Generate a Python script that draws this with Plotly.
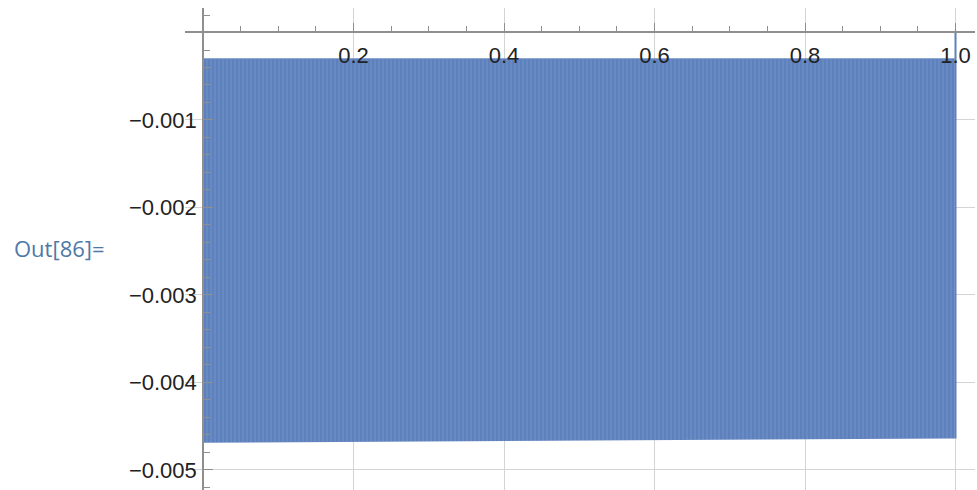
import plotly.graph_objects as go

# ---- data ----
band_x = [0.0, 0.999]
band_upper = [-0.00030, -0.00030]
band_lower = [-0.00469, -0.00464]
left_spike_x = [0.0, 0.0]
left_spike_y = [-0.00469, -0.00497]
right_spike_x = [1.0, 1.0]
right_spike_y = [-0.00464, 0.00002]

x_tickvals = [0.2, 0.4, 0.6, 0.8, 1.0]
x_ticktext = ["0.2", "0.4", "0.6", "0.8", "1.0"]
y_tickvals = [-0.001, -0.002, -0.003, -0.004, -0.005]
y_ticktext = ["\u22120.001", "\u22120.002", "\u22120.003", "\u22120.004", "\u22120.005"]

x_range = [-0.0239, 1.0259]
y_range = [-0.005229, 0.00028]

BLUE = "#5e81bd"
LIGHT = "#88a3d3"
AXIS = "#8f8f8f"
GRID = "#d4d4d4"
FONT = dict(family="Liberation Sans, Arial, sans-serif", size=22, color="#222222")

W, H = 977, 490
ML, MR, MT, MB = 185, 2, 8, 0

fig = go.Figure()
fig.add_trace(go.Scatter(x=band_x, y=band_lower, mode="lines",
                         line=dict(width=0, color=BLUE), showlegend=False, hoverinfo="skip"))
fig.add_trace(go.Scatter(x=band_x, y=band_upper, mode="lines", fill="tonexty",
                         fillcolor=BLUE,
                         fillpattern=dict(shape="|", bgcolor=BLUE, fgcolor=LIGHT,
                                          size=4, solidity=0.25),
                         line=dict(width=0.8, color=BLUE), showlegend=False))
fig.add_trace(go.Scatter(x=left_spike_x, y=left_spike_y, mode="lines",
                         line=dict(width=2, color=BLUE), showlegend=False))
fig.add_trace(go.Scatter(x=right_spike_x, y=right_spike_y, mode="lines",
                         line=dict(width=2, color=BLUE), showlegend=False))

x_zero_frac = (0 - y_range[0]) / (y_range[1] - y_range[0])
y_zero_frac = (0 - x_range[0]) / (x_range[1] - x_range[0])

x_minor = [round(0.05 * i, 2) for i in range(1, 21) if i % 4 != 0]
y_minor = [round(-0.0002 * i, 4) for i in range(-1, 27) if i % 5 != 0]

fig.update_layout(
    width=W, height=H,
    margin=dict(l=ML, r=MR, t=MT, b=MB),
    paper_bgcolor="white", plot_bgcolor="white",
    font=FONT,
    xaxis=dict(range=x_range, anchor="free", position=x_zero_frac, side="bottom",
               showline=True, linecolor=AXIS, linewidth=1.5,
               tickvals=x_tickvals, ticktext=x_ticktext,
               ticks="inside", ticklen=9, tickcolor=AXIS, tickwidth=1.2,
               ticklabelstandoff=3,
               minor=dict(tickvals=x_minor, ticks="inside", ticklen=6,
                          tickcolor=AXIS, tickwidth=1.2, showgrid=False),
               showgrid=True, gridcolor=GRID, gridwidth=1.2, zeroline=False,
               tickfont=FONT),
    yaxis=dict(range=y_range, anchor="free", position=y_zero_frac, side="left",
               showline=True, linecolor=AXIS, linewidth=1.5,
               tickvals=y_tickvals, ticktext=y_ticktext,
               ticks="inside", ticklen=9, tickcolor=AXIS, tickwidth=1.2,
               ticklabelstandoff=1,
               minor=dict(tickvals=y_minor, ticks="inside", ticklen=6,
                          tickcolor=AXIS, tickwidth=1.2, showgrid=False),
               showgrid=True, gridcolor=GRID, gridwidth=1.2, zeroline=False,
               tickfont=FONT),
    annotations=[dict(text="Out[86]=", xref="paper", yref="paper",
                      x=(12 - ML) / (W - ML - MR), y=(H - MB - 248) / (H - MT - MB),
                      xanchor="left", yanchor="middle", showarrow=False,
                      font=dict(family="Open Sans, Noto Sans, sans-serif", size=22,
                                color="#4e79a7"))],
)

fig.write_html("out.html")
